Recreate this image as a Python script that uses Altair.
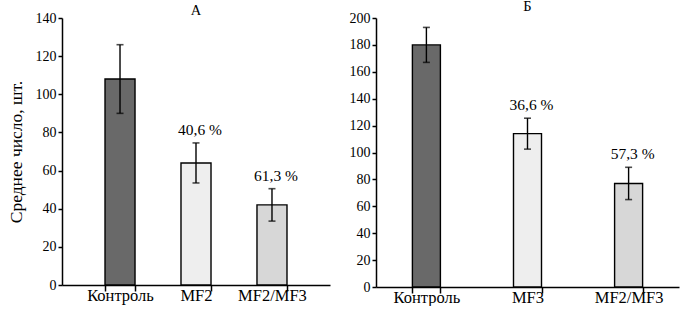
import altair as alt
import pandas as pd

# ---- data ----
cats_a = ["Контроль", "MF2", "MF2/MF3"]
vals_a = [108, 64, 42]
errs_a = [18, 10.5, 8.5]
pct_a = ["", "40,6 %", "61,3 %"]

cats_b = ["Контроль", "MF3", "MF2/MF3"]
vals_b = [180, 114, 77]
errs_b = [13, 11.5, 12]
pct_b = ["", "36,6 %", "57,3 %"]

ticks_a = [0, 20, 40, 60, 80, 100, 120, 140]
ticks_b = [0, 20, 40, 60, 80, 100, 120, 140, 160, 180, 200]

FILLS = ["#696969", "#eeeeee", "#d7d7d7"]
FONT = "Liberation Serif"


def panel(cats, vals, errs, pcts, title, ticks, width, height, p_in, p_out, ytitle):
    df = pd.DataFrame({
        "cat": cats,
        "val": vals,
        "lo": [v - e for v, e in zip(vals, errs)],
        "hi": [v + e for v, e in zip(vals, errs)],
        "pct": pcts,
    })
    xscale = alt.Scale(paddingInner=p_in, paddingOuter=p_out)
    yscale = alt.Scale(domain=[ticks[0], ticks[-1]], nice=False)
    xaxis = alt.Axis(labelAngle=0, tickBand="extent", tickSize=6,
                     labelPadding=-4, labelFontSize=16.5)
    yaxis = alt.Axis(values=ticks, grid=False, tickSize=4, labelPadding=2,
                     labelOverlap=False, labelFontSize=14,
                     titleFontSize=17.5, titleFontWeight="normal", titlePadding=10)
    ytitle_v = ytitle if ytitle else None

    def X():
        return alt.X("cat:N", sort=cats, title=None, scale=xscale, axis=xaxis)

    def Y(field):
        return alt.Y(field, scale=yscale, title=ytitle_v, axis=yaxis)

    base = alt.Chart(df)
    bars = base.mark_bar(stroke="black", strokeWidth=1.4).encode(
        x=X(), y=Y("val:Q"),
        color=alt.Color("cat:N", scale=alt.Scale(domain=cats, range=FILLS), legend=None),
    )
    rule = base.mark_rule(color="black", strokeWidth=1.4).encode(
        x=X(), y=Y("lo:Q"), y2="hi:Q")
    cap_lo = base.mark_tick(color="black", thickness=1.6, size=7).encode(
        x=X(), y=Y("lo:Q"))
    cap_hi = base.mark_tick(color="black", thickness=1.6, size=7).encode(
        x=X(), y=Y("hi:Q"))
    text = base.mark_text(baseline="alphabetic", dy=-8, dx=4, font=FONT, fontSize=15.5,
                          color="black").encode(
        x=X(), y=Y("hi:Q"), text="pct:N")
    return alt.layer(bars, rule, cap_lo, cap_hi, text).properties(
        width=width, height=height,
        title=alt.TitleParams(title, fontSize=14.5, font=FONT, fontWeight="normal",
                              anchor="middle", offset=-7))


left = panel(cats_a, vals_a, errs_a, pct_a, "А", ticks_a, 268, 267, 0.605, 0.566,
             "Среднее число, шт.")
right = panel(cats_b, vals_b, errs_b, pct_b, "Б", ticks_b, 303, 269, 0.723, 0.36, None)

chart = alt.hconcat(left, right, spacing=19).resolve_scale(
    color="independent", x="independent", y="independent"
).properties(
    padding={"left": 7, "top": -2, "right": 6, "bottom": 0}
).configure_view(stroke=None).configure_axis(
    labelFont=FONT, titleFont=FONT, labelColor="black", titleColor="black",
    domainColor="black", tickColor="black", domainWidth=1.5, tickWidth=1.5,
    labelOverlap=False,
).configure_title(color="black")

chart.save("out.html", embed_options={"renderer": "svg", "actions": False})
